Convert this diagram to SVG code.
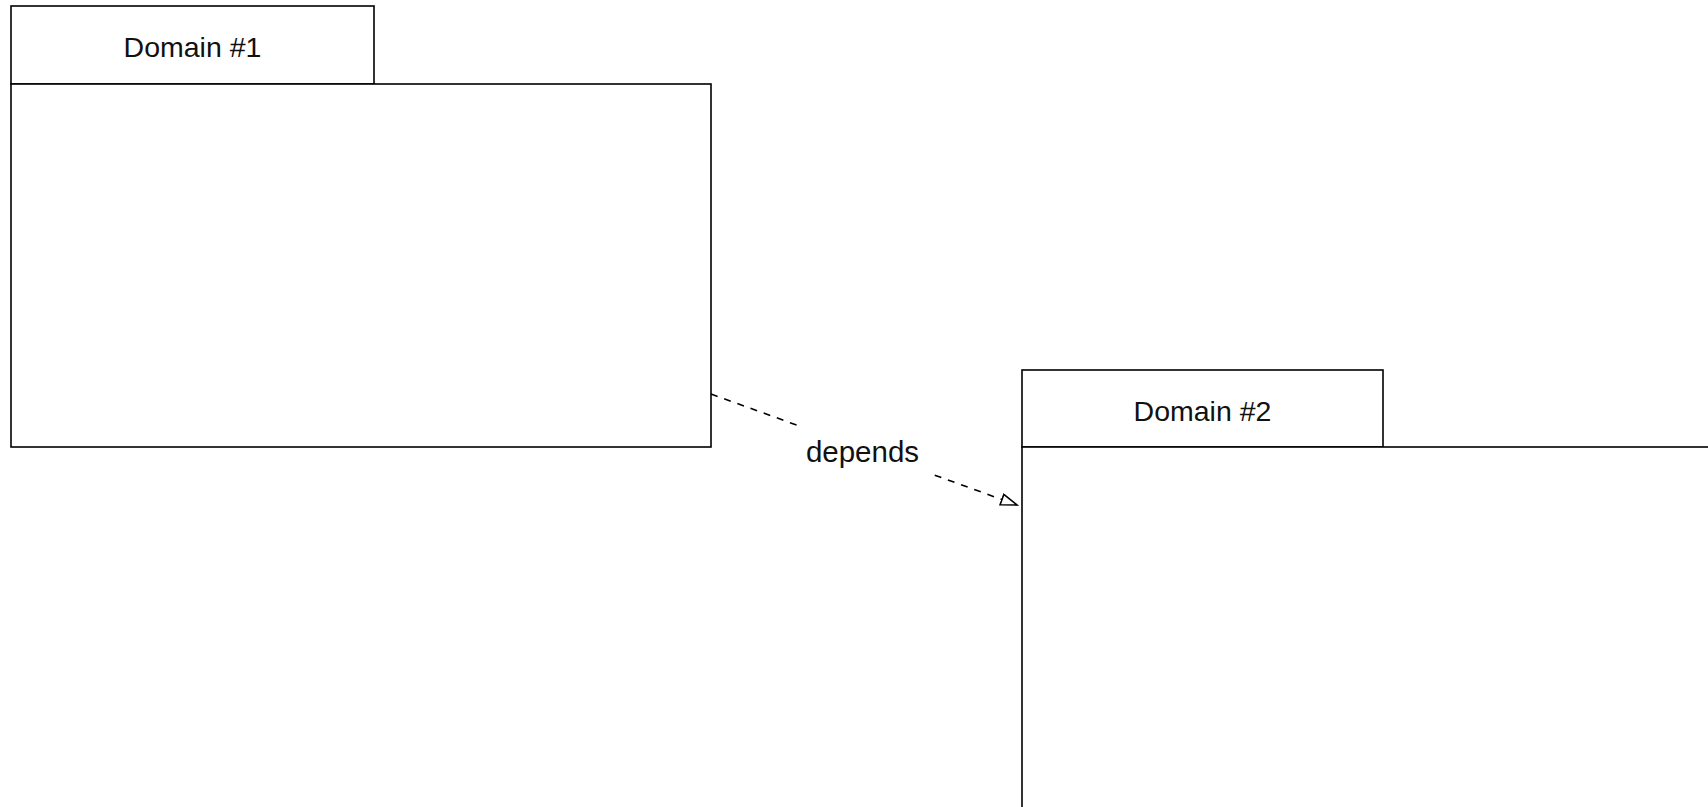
<svg xmlns="http://www.w3.org/2000/svg" width="1708" height="807" viewBox="0 0 1708 807">
  <style>
    .box { fill: #ffffff; stroke: #000000; stroke-width: 1.6; }
    .title { font-family: "Liberation Sans", Arial, sans-serif; font-size: 28.5px; fill: #111111; text-anchor: middle; }
    .edge { fill: none; stroke: #000000; stroke-width: 1.6; stroke-dasharray: 7 7; }
    .edge-label { font-family: "Liberation Sans", Arial, sans-serif; font-size: 29.5px; fill: #111111; text-anchor: middle; }
  </style>
  <defs>
    <marker id="open-triangle" markerUnits="userSpaceOnUse" markerWidth="20" markerHeight="16" refX="17" refY="6.5" orient="auto">
      <path d="M1,1 L17,6.5 L1,12 Z" fill="#ffffff" stroke="#000000" stroke-width="1.6" stroke-dasharray="none"/>
    </marker>
  </defs>
  <rect width="1708" height="807" fill="#ffffff"/>

  <!-- Package: Domain #1 -->
  <g id="domain-1">
    <rect class="box" x="11" y="6" width="363" height="78"/>
    <rect class="box" x="11" y="84" width="700" height="363"/>
    <text class="title" x="192.5" y="57">Domain #1</text>
  </g>

  <!-- Package: Domain #2 (extends past the canvas) -->
  <g id="domain-2">
    <rect class="box" x="1022" y="370" width="361" height="77"/>
    <rect class="box" x="1022" y="447" width="720" height="400"/>
    <text class="title" x="1202.5" y="420.5">Domain #2</text>
  </g>

  <!-- Dependency connector -->
  <g id="connectors">
    <path class="edge" d="M711,394 L1017,505" marker-end="url(#open-triangle)"/>
    <rect x="797" y="423" width="132" height="54" fill="#ffffff"/>
    <text class="edge-label" x="862.5" y="462">depends</text>
  </g>
</svg>
